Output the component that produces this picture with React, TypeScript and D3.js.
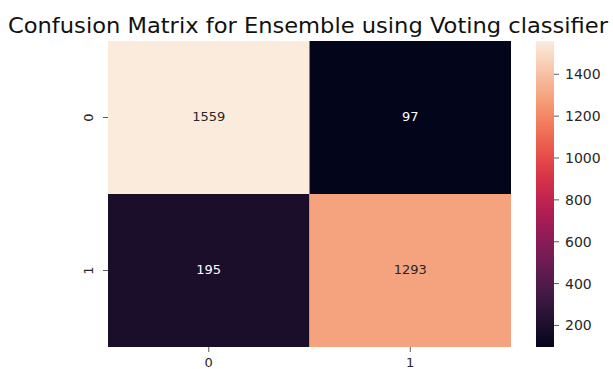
import React from "react";
import * as d3 from "d3";

const rowLabels = ["0", "1"];
const colLabels = ["0", "1"];
const matrix = [
  [1559, 97],
  [195, 1293],
];
const cbarTicks = [200, 400, 600, 800, 1000, 1200, 1400];
const rocketStops = ["#03051a", "#35193e", "#701f57", "#ad1759", "#e13342", "#f37651", "#f6b48f", "#faebdd"];
const title = "Confusion Matrix for Ensemble using Voting classifier";

export default function App() {
  const W = 613, H = 369;
  const left = 108, right = 511, top = 41, bottom = 347;
  const cbX = 536, cbW = 18;
  const flat = matrix.flat();
  const vmin = d3.min(flat) as number, vmax = d3.max(flat) as number;
  const x = d3.scaleBand().domain(colLabels).range([left, right]);
  const y = d3.scaleBand().domain(rowLabels).range([top, bottom]);
  const interp = d3.interpolateRgbBasis(rocketStops);
  const color = (v: number) => interp((v - vmin) / (vmax - vmin));
  const cy = d3.scaleLinear().domain([vmin, vmax]).range([bottom, top]);
  const font = "DejaVu Sans, sans-serif";
  const gradStops = d3.range(0, 1.0001, 0.05);
  return (
    <svg width={W} height={H} style={{ position: "absolute", left: 0, top: 0, background: "#fff" }}>
      <defs>
        <linearGradient id="cb" x1="0" y1="1" x2="0" y2="0">
          {gradStops.map((t) => (
            <stop key={t} offset={t} stopColor={interp(t)} />
          ))}
        </linearGradient>
      </defs>
      <text x={8} y={33} fontFamily={font} fontSize={21} fill="#111" textLength={600} lengthAdjust="spacingAndGlyphs">
        {title}
      </text>
      {matrix.map((row, i) =>
        row.map((v, j) => (
          <g key={`${i}-${j}`}>
            <rect x={x(colLabels[j])} y={y(rowLabels[i])} width={x.bandwidth()} height={y.bandwidth()} fill={color(v)} />
            <text
              x={(x(colLabels[j]) as number) + x.bandwidth() / 2}
              y={(y(rowLabels[i]) as number) + y.bandwidth() / 2 - 1}
              textAnchor="middle"
              dominantBaseline="central"
              fontFamily={font}
              fontSize={13}
              fill={(v - vmin) / (vmax - vmin) > 0.5 ? "#262626" : "#ffffff"}
            >
              {v}
            </text>
          </g>
        ))
      )}
      {rowLabels.map((r) => {
        const yy = (y(r) as number) + y.bandwidth() / 2;
        return (
          <g key={r}>
            <line x1={left - 5} x2={left} y1={yy} y2={yy} stroke="#333" strokeWidth={0.8} />
            <text x={88} y={yy} transform={`rotate(-90, 88, ${yy})`} textAnchor="middle" dominantBaseline="central" fontFamily={font} fontSize={13} fill="#262626">
              {r}
            </text>
          </g>
        );
      })}
      {colLabels.map((c) => {
        const xx = (x(c) as number) + x.bandwidth() / 2;
        return (
          <g key={c}>
            <line x1={xx} x2={xx} y1={bottom} y2={bottom + 5} stroke="#333" strokeWidth={0.8} />
            <text x={xx} y={362} textAnchor="middle" dominantBaseline="central" fontFamily={font} fontSize={13} fill="#262626">
              {c}
            </text>
          </g>
        );
      })}
      <rect x={cbX} y={top} width={cbW} height={bottom - top} fill="url(#cb)" />
      {cbarTicks.map((t) => (
        <g key={t}>
          <line x1={cbX + cbW} x2={cbX + cbW + 5} y1={cy(t)} y2={cy(t)} stroke="#333" strokeWidth={0.8} />
          <text x={565} y={cy(t)} dominantBaseline="central" fontFamily={font} fontSize={14} fill="#262626">
            {t}
          </text>
        </g>
      ))}
    </svg>
  );
}
